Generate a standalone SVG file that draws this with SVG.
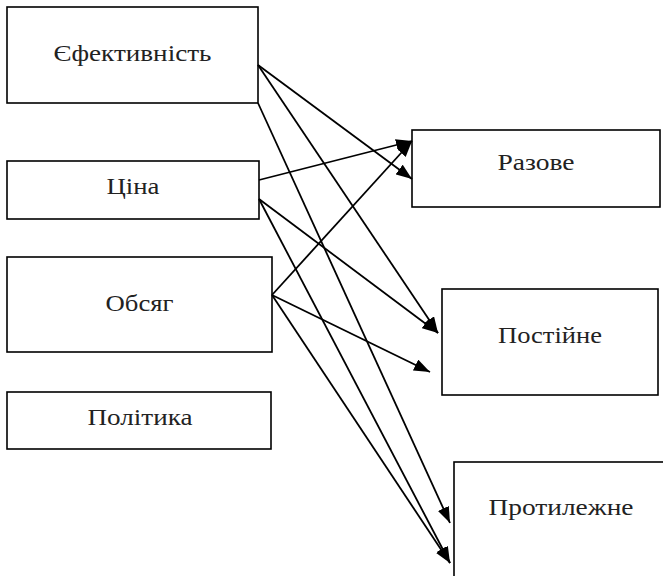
<svg xmlns="http://www.w3.org/2000/svg" width="663" height="576" viewBox="0 0 663 576">
  <style>
    .box { fill: #fff; stroke: #000; stroke-width: 1.6; }
    .wire { stroke: #000; stroke-width: 1.8; fill: none; marker-end: url(#arrow); }
  </style>
  <defs>
    <marker id="arrow" viewBox="0 0 16 12" refX="16" refY="6" markerWidth="16" markerHeight="12" markerUnits="userSpaceOnUse" orient="auto">
      <path d="M0,0 L16,6 L0,12 Z" fill="#000"/>
    </marker>
  </defs>

  <g font-family="Liberation Serif" font-size="23" fill="#222" text-anchor="middle">
    <!-- source factors -->
    <g id="efektyvnist">
      <rect class="box" x="7" y="7" width="251" height="96"/>
      <text x="132.5" y="61" textLength="158" lengthAdjust="spacingAndGlyphs">Єфективність</text>
    </g>
    <g id="tsina">
      <rect class="box" x="7" y="161" width="252" height="58"/>
      <text x="133" y="194" textLength="53" lengthAdjust="spacingAndGlyphs">Ціна</text>
    </g>
    <g id="obsiah">
      <rect class="box" x="7" y="257" width="265" height="95"/>
      <text x="139.5" y="311" textLength="68" lengthAdjust="spacingAndGlyphs">Обсяг</text>
    </g>
    <g id="polityka">
      <rect class="box" x="7" y="392" width="264" height="57"/>
      <text x="140" y="425" textLength="105" lengthAdjust="spacingAndGlyphs">Політика</text>
    </g>

    <!-- outcome types -->
    <g id="razove">
      <rect class="box" x="412" y="130" width="248" height="77"/>
      <text x="536" y="170" textLength="77" lengthAdjust="spacingAndGlyphs">Разове</text>
    </g>
    <g id="postiine">
      <rect class="box" x="442" y="289" width="216" height="106"/>
      <text x="550" y="343" textLength="104" lengthAdjust="spacingAndGlyphs">Постійне</text>
    </g>
    <g id="protylezhne">
      <rect class="box" x="454" y="462" width="220" height="130"/>
      <text x="561" y="515" textLength="145" lengthAdjust="spacingAndGlyphs">Протилежне</text>
    </g>
  </g>

  <!-- connectors -->
  <g id="connectors">
    <line class="wire" x1="258" y1="65" x2="412" y2="179"/>
    <line class="wire" x1="258" y1="65" x2="438" y2="333"/>
    <line class="wire" x1="258" y1="103" x2="450" y2="523"/>
    <line class="wire" x1="259" y1="180" x2="412" y2="141"/>
    <line class="wire" x1="259" y1="199" x2="438" y2="333"/>
    <line class="wire" x1="259" y1="199" x2="450" y2="563"/>
    <line class="wire" x1="272" y1="295" x2="412" y2="141"/>
    <line class="wire" x1="272" y1="295" x2="430" y2="372"/>
    <line class="wire" x1="272" y1="295" x2="450" y2="563"/>
  </g>
</svg>
